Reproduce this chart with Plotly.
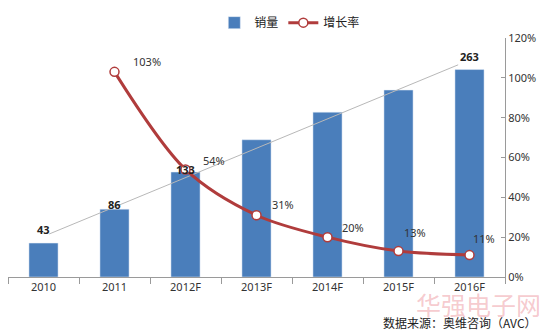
import plotly.graph_objects as go

categories = ["2010", "2011", "2012F", "2013F", "2014F", "2015F", "2016F"]
sales = [43, 86, 133, 174, 209, 237, 263]
growth = [None, 103, 54, 31, 20, 13, 11]
sales_labels = ["43", "86", "133", None, None, None, "263"]
growth_labels = [None, "103%", "54%", "31%", "20%", "13%", "11%"]
right_ticks = [0, 20, 40, 60, 80, 100, 120]

# label placement (pixel shifts), kept separate from the data
sales_label_yshift = [11, 2, 0, None, None, None, 11]
growth_label_shift = [None, (32, 10), (28, 9), (26, 11), (25, 10), (16, 19), (14, 17)]

BLUE = "#4a7ebb"
RED = "#b03c3c"
FONT = "Noto Sans, Noto Sans CJK SC, sans-serif"
CJK = "Noto Sans CJK SC, sans-serif"

n = len(categories)
pos = list(range(n))

fig = go.Figure()
fig.add_trace(go.Bar(x=pos, y=sales, name="销量", marker_color=BLUE, yaxis="y",
                     hovertext=categories))
fig.add_trace(go.Scatter(x=pos, y=growth, name="增长率", yaxis="y2",
                         mode="lines+markers",
                         line=dict(color=RED, width=3, shape="spline", smoothing=0.9),
                         marker=dict(size=9, color="white",
                                     line=dict(color=RED, width=1.5)),
                         connectgaps=False, hovertext=categories))

# thin gray line linking the first and last sales labels
fig.add_trace(go.Scatter(x=[pos[0] + 0.08, pos[-1] - 0.16],
                         y=[sales[0] + 11.5, sales[-1] + 6],
                         mode="lines", line=dict(color="#b8b8b8", width=1),
                         showlegend=False, hoverinfo="skip", yaxis="y"))

annotations = []
for i, lab in enumerate(sales_labels):
    if lab is None:
        continue
    annotations.append(dict(x=pos[i], y=sales[i], xref="x", yref="y",
                            text="<b>" + lab + "</b>", showarrow=False,
                            yanchor="bottom", yshift=sales_label_yshift[i] - 7,
                            font=dict(size=11, color="#222222", family=FONT)))
for i, lab in enumerate(growth_labels):
    if lab is None:
        continue
    dx, dy = growth_label_shift[i]
    annotations.append(dict(x=pos[i], y=growth[i], xref="x", yref="y2",
                            text=lab, showarrow=False, xshift=dx, yshift=dy,
                            font=dict(size=11, color="#333333", family=FONT)))

# watermark and source
annotations.append(dict(x=1.0, y=-0.03, xref="paper", yref="paper",
                        xanchor="right", yanchor="top", text="华强电子网",
                        showarrow=False, xshift=38,
                        font=dict(size=25, color="rgba(232,120,130,0.40)", family=CJK)))
annotations.append(dict(x=1.0, y=-0.145, xref="paper", yref="paper",
                        xanchor="right", yanchor="top", text="数据来源：奥维咨询（AVC）",
                        showarrow=False, xshift=34,
                        font=dict(size=12, color="#222222", family=CJK)))

fig.update_layout(
    width=548, height=332,
    margin=dict(l=8, r=43, t=35, b=55),
    paper_bgcolor="white", plot_bgcolor="white",
    bargap=0.59,
    font=dict(family=FONT, size=11, color="#333333"),
    showlegend=True,
    legend=dict(orientation="h", x=0.567, xanchor="center", y=1.125, yanchor="top",
                font=dict(size=12, family=CJK, color="#222222"),
                itemwidth=30, bgcolor="rgba(0,0,0,0)"),
    xaxis=dict(range=[-0.5, n - 0.5], tickvals=pos, ticktext=categories,
               showline=True, linecolor="#9a9a9a", linewidth=1, ticks="",
               minor=dict(tickmode="linear", tick0=-0.5, dtick=1, ticks="outside",
                          ticklen=6, tickcolor="#9a9a9a", showgrid=False),
               tickfont=dict(size=11, color="#333333"), showgrid=False, zeroline=False),
    yaxis=dict(range=[0, 303], visible=False, showgrid=False, zeroline=False),
    yaxis2=dict(range=[0, 120], overlaying="y", side="right", tickvals=right_ticks,
                ticktext=[f"{v}%" for v in right_ticks], showline=True,
                linecolor="#9a9a9a", ticks="inside", ticklen=4, tickcolor="#9a9a9a",
                showgrid=False, zeroline=False,
                tickfont=dict(size=11, color="#333333")),
    annotations=annotations,
)

fig.write_html("out.html")
